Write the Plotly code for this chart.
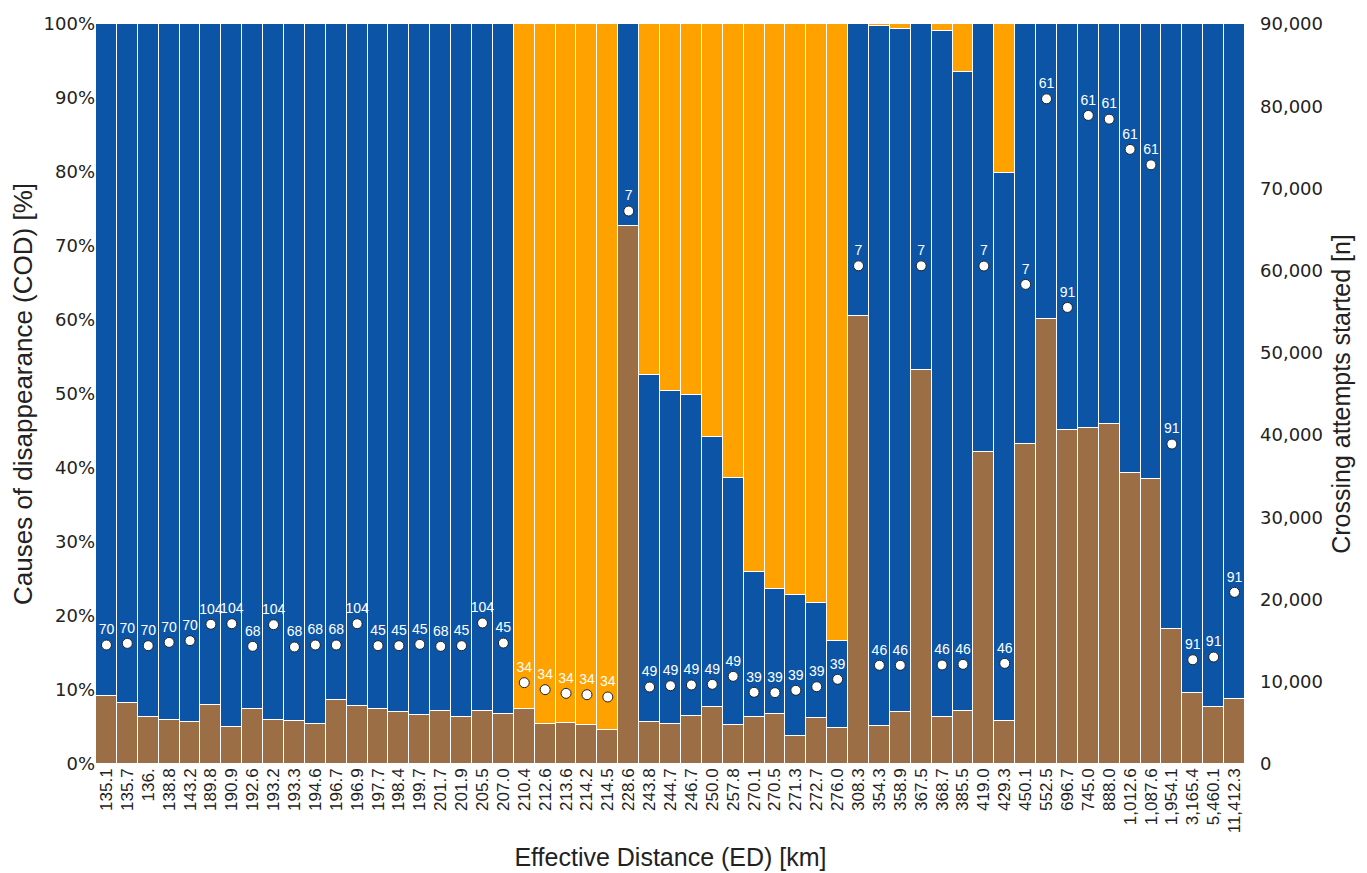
import plotly.graph_objects as go

categories = ["135.1", "135.7", "136.", "138.8", "143.2", "189.8", "190.9", "192.6", "193.2", "193.3",
              "194.6", "196.7", "196.9", "197.7", "198.4", "199.7", "201.7", "201.9", "205.5", "207.0",
              "210.4", "212.6", "213.6", "214.2", "214.5", "228.6", "243.8", "244.7", "246.7", "250.0",
              "257.8", "270.1", "270.5", "271.3", "272.7", "276.0", "308.3", "354.3", "358.9", "367.5",
              "368.7", "385.5", "419.0", "429.3", "450.1", "552.5", "696.7", "745.0", "888.0", "1,012.6",
              "1,087.6", "1,954.1", "3,165.4", "5,460.1", "11,412.3"]

brown = [9.2, 8.2, 6.4, 5.9, 5.7, 8.0, 5.0, 7.4, 5.9, 5.8,
         5.4, 8.7, 7.8, 7.4, 7.0, 6.6, 7.1, 6.3, 7.1, 6.8,
         7.5, 5.4, 5.6, 5.3, 4.6, 72.7, 5.7, 5.4, 6.5, 7.7,
         5.3, 6.3, 6.8, 3.8, 6.2, 4.8, 60.5, 5.2, 7.0, 53.2,
         6.3, 7.2, 42.1, 5.8, 43.3, 60.2, 45.2, 45.4, 45.9, 39.3,
         38.5, 18.3, 9.6, 7.7, 8.8]

blue = [90.8, 91.8, 93.6, 94.1, 94.3, 92.0, 95.0, 92.6, 94.1, 94.2,
        94.6, 91.3, 92.2, 92.6, 93.0, 93.4, 92.9, 93.7, 92.9, 93.2,
        0.0, 0.0, 0.0, 0.0, 0.0, 27.3, 46.9, 45.0, 43.3, 36.5,
        33.4, 19.6, 16.8, 19.0, 15.5, 11.8, 39.5, 94.5, 92.3, 46.8,
        92.7, 86.3, 57.9, 74.0, 56.7, 39.8, 54.8, 54.6, 54.1, 60.7,
        61.5, 81.7, 90.4, 92.3, 91.2]

orange = [0.0, 0.0, 0.0, 0.0, 0.0, 0.0, 0.0, 0.0, 0.0, 0.0,
          0.0, 0.0, 0.0, 0.0, 0.0, 0.0, 0.0, 0.0, 0.0, 0.0,
          92.5, 94.6, 94.4, 94.7, 95.4, 0.0, 47.4, 49.6, 50.2, 55.8,
          61.3, 74.1, 76.4, 77.2, 78.3, 83.4, 0.0, 0.3, 0.7, 0.0,
          1.0, 6.5, 0.0, 20.2, 0.0, 0.0, 0.0, 0.0, 0.0, 0.0,
          0.0, 0.0, 0.0, 0.0, 0.0]

attempts = [14470, 14670, 14390, 14790, 15000, 16990, 17060, 14310, 16940, 14230,
            14470, 14470, 17060, 14390, 14390, 14550, 14310, 14390, 17150, 14710,
            9890, 9040, 8590, 8430, 8150, 67250, 9360, 9520, 9610, 9690,
            10660, 8720, 8680, 8960, 9400, 10300, 60590, 12000, 12000, 60590,
            12040, 12120, 60560, 12240, 58330, 80900, 55530, 78880, 78430, 74750,
            72870, 38910, 12680, 13010, 20880]

route_labels = ["70", "70", "70", "70", "70", "104", "104", "68", "104", "68",
                "68", "68", "104", "45", "45", "45", "68", "45", "104", "45",
                "34", "34", "34", "34", "34", "7", "49", "49", "49", "49",
                "49", "39", "39", "39", "39", "39", "7", "46", "46", "7",
                "46", "46", "7", "46", "7", "61", "91", "61", "61", "61",
                "61", "91", "91", "91", "91"]

BROWN = "#9C6E45"
BLUE = "#0C55A6"
ORANGE = "#FFA200"

fig = go.Figure()
for vals, col in [(brown, BROWN), (blue, BLUE), (orange, ORANGE)]:
    fig.add_trace(go.Bar(x=categories, y=vals, marker=dict(color=col, line=dict(color="white", width=1)),
                         showlegend=False, yaxis="y"))

fig.add_trace(go.Scatter(x=categories, y=attempts, yaxis="y2", mode="markers+text",
                         text=route_labels, textposition="top center",
                         textfont=dict(color="white", size=14, family="Liberation Sans"),
                         marker=dict(color="white", size=10, line=dict(color="#222222", width=1)),
                         showlegend=False, cliponaxis=False))

fig.update_layout(
    width=1367, height=873,
    barmode="stack", bargap=0,
    plot_bgcolor="white", paper_bgcolor="white",
    margin=dict(l=88, r=130, t=16, b=117, autoexpand=False),
    font=dict(family="Liberation Sans", color="#222222"),
    xaxis=dict(type="category", tickangle=-90, tickfont=dict(size=17, color="#222222"),
               range=[-0.5, len(categories) - 0.5],
               tickmode="array", tickvals=categories, ticktext=categories, automargin=False,
               title=dict(text="Effective Distance (ED) [km]", font=dict(size=25), standoff=16),
               showgrid=False, showline=False, ticks=""),
    yaxis=dict(range=[0, 100], dtick=10, ticksuffix="%", automargin=False,
               tickfont=dict(size=18, family="DejaVu Sans"),
               title=dict(text="Causes of disappearance (COD) [%]", font=dict(size=26), standoff=4),
               showgrid=False, zeroline=False, showline=False, ticks=""),
    yaxis2=dict(range=[0, 90000], dtick=10000, tickformat=",d", overlaying="y", side="right",
                automargin=False, tickfont=dict(size=18, family="DejaVu Sans"), ticklabelstandoff=14,
                title=dict(text="Crossing attempts started [n]", font=dict(size=25), standoff=10),
                showgrid=False, zeroline=False, showline=False, ticks=""),
)

fig.write_html("out.html")
